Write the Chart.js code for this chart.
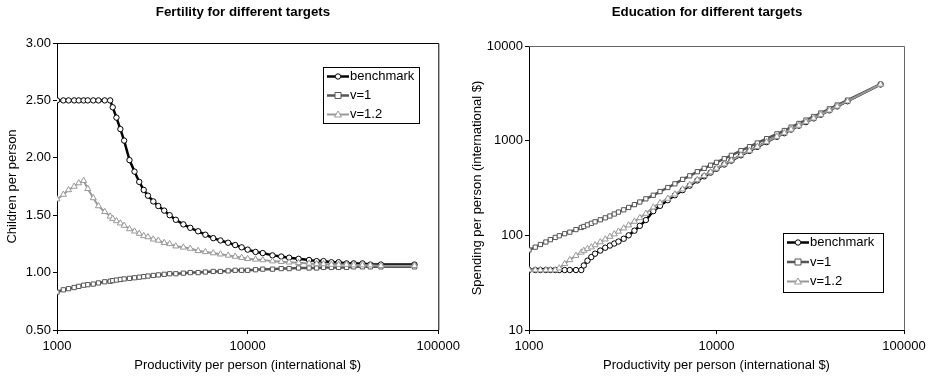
<!DOCTYPE html>
<html>
<head>
<meta charset="utf-8">
<script src="https://cdn.jsdelivr.net/npm/chart.js@4.4.1/dist/chart.umd.min.js"></script>
<style>
  html, body { margin: 0; padding: 0; background: #fff; }
  #wrap { position: relative; width: 931px; height: 379px; }
  .box { position: absolute; top: 0; height: 379px; }
</style>
</head>
<body>
<div id="wrap">
  <div class="box" style="left:0;width:465px"><canvas id="fert"></canvas></div>
  <div class="box" style="left:465px;width:466px"><canvas id="edu"></canvas></div>
</div>
<script>
// productivity per person (international $) - shared x values
const productivity = [1000, 1080, 1150, 1230, 1300, 1380, 1450, 1550, 1650, 1780, 1900, 1960, 2050, 2150, 2250, 2400, 2550, 2700, 2850, 3000,
  3200, 3400, 3650, 3900, 4200, 4600, 5000, 5500, 6000, 6600, 7200, 7900, 8600, 9300, 10000, 11000, 12000, 13500, 15000, 16500,
  18500, 21000, 23000, 25000, 27500, 30000, 33000, 36000, 40000, 44000, 50000, 75000];

// fertility (children per person)
const fertBenchmark = [2.50, 2.50, 2.50, 2.50, 2.50, 2.50, 2.50, 2.50, 2.50, 2.50, 2.50, 2.44, 2.35, 2.25, 2.15, 1.98, 1.88, 1.79, 1.72, 1.67,
  1.62, 1.58, 1.54, 1.50, 1.46, 1.42, 1.39, 1.36, 1.33, 1.30, 1.28, 1.26, 1.24, 1.22, 1.20, 1.18, 1.17, 1.15, 1.14, 1.13,
  1.12, 1.11, 1.10, 1.10, 1.09, 1.09, 1.08, 1.08, 1.08, 1.07, 1.07, 1.07];
const fertV1 = [0.83, 0.85, 0.86, 0.87, 0.88, 0.89, 0.895, 0.90, 0.91, 0.92, 0.925, 0.93, 0.935, 0.94, 0.945, 0.95, 0.955, 0.96, 0.965, 0.97,
  0.975, 0.98, 0.985, 0.99, 0.99, 0.995, 1.00, 1.00, 1.005, 1.01, 1.01, 1.015, 1.02, 1.02, 1.02, 1.025, 1.03, 1.03, 1.035, 1.035,
  1.04, 1.04, 1.04, 1.045, 1.045, 1.045, 1.045, 1.05, 1.05, 1.05, 1.05, 1.05];
const fertV12 = [1.64, 1.68, 1.72, 1.75, 1.78, 1.80, 1.73, 1.65, 1.58, 1.53, 1.49, 1.47, 1.45, 1.43, 1.41, 1.38, 1.36, 1.34, 1.32, 1.31,
  1.29, 1.28, 1.26, 1.25, 1.23, 1.22, 1.21, 1.19, 1.18, 1.17, 1.16, 1.15, 1.14, 1.13, 1.12, 1.115, 1.11, 1.10, 1.095, 1.09,
  1.085, 1.08, 1.075, 1.075, 1.07, 1.07, 1.07, 1.065, 1.065, 1.065, 1.06, 1.06];

// education spending per person (international $)
const eduBenchmark = [43, 43, 43, 43, 43, 43, 43, 43, 43, 43, 43, 48, 54, 59, 64, 69, 74, 78, 82, 86,
  92, 100, 112, 126, 145, 180, 205, 235, 265, 300, 335, 380, 420, 460, 505, 560, 615, 700, 780, 860,
  965, 1100, 1200, 1310, 1440, 1570, 1720, 1880, 2090, 2300, 2610, 3920];
const eduV1 = [70, 75, 80, 85, 90, 95, 99, 104, 108, 115, 121, 124, 129, 134, 139, 146, 153, 160, 168, 176,
  186, 197, 211, 225, 243, 265, 290, 320, 350, 390, 425, 470, 510, 550, 590, 645, 700, 785, 865, 945,
  1050, 1180, 1280, 1390, 1520, 1650, 1800, 1960, 2170, 2380, 2680, 3950];
const eduV12 = [43, 43, 43, 43, 43, 43, 45, 50, 55, 61, 66, 69, 72, 75, 79, 85, 91, 97, 103, 110,
  119, 128, 140, 153, 170, 198, 220, 245, 272, 307, 342, 386, 426, 466, 510, 565, 620, 705, 785, 865,
  970, 1105, 1205, 1315, 1445, 1575, 1725, 1885, 2095, 2305, 2615, 3930];

const seriesNames = ['benchmark', 'v=1', 'v=1.2'];
const xTicks = [1000, 10000, 100000];
const fertTicks = [0.5, 1.0, 1.5, 2.0, 2.5, 3.0];
const eduTicks = [10, 100, 1000, 10000];

const FONT = "'Liberation Sans', Arial, sans-serif";
Chart.defaults.font.family = FONT;
Chart.defaults.font.size = 13;
Chart.defaults.color = '#000';

// later series are painted over earlier ones, like the original
const styles = [
  { color: '#000', width: 2.5, point: 'circle', radius: 2.7, order: 3 },
  { color: '#555', width: 2.5, point: 'rect', radius: 3, order: 2 },
  { color: '#999', width: 2, point: 'triangle', radius: 3.5, order: 1 }
];

function makeDatasets(seriesList) {
  return seriesList.map((vals, i) => ({
    label: seriesNames[i],
    data: productivity.map((x, j) => ({ x: x, y: vals[j] })),
    order: styles[i].order,
    showLine: true,
    borderColor: styles[i].color,
    borderWidth: styles[i].width,
    pointStyle: styles[i].point,
    pointRadius: styles[i].radius,
    pointBorderWidth: 1,
    pointBorderColor: styles[i].color,
    pointBackgroundColor: '#fff',
    tension: 0
  }));
}

// title, frame around the plot, and custom legend (line with marker in the middle)
const framePlugin = {
  id: 'frame',
  afterDraw(chart, args, opts) {
    const { ctx, chartArea: a } = chart;
    ctx.save();
    ctx.fillStyle = '#000';
    ctx.font = 'bold 13.3px ' + FONT;
    ctx.textAlign = 'center';
    ctx.textBaseline = 'middle';
    ctx.fillText(opts.title, opts.titleX, 12);

    ctx.strokeStyle = opts.color;
    ctx.lineWidth = 1;
    ctx.beginPath();
    ctx.moveTo(a.left, a.top + 0.5);
    ctx.lineTo(a.right + 0.5, a.top + 0.5);
    ctx.lineTo(a.right + 0.5, a.bottom);
    ctx.stroke();

    const L = opts.legend;
    ctx.fillStyle = '#fff';
    ctx.fillRect(L.x, L.y, L.w, L.h);
    ctx.strokeStyle = '#000';
    ctx.strokeRect(L.x + 0.5, L.y + 0.5, L.w, L.h);
    ctx.textAlign = 'left';
    chart.data.datasets.forEach((ds, i) => {
      const y = L.y + 9.5 + i * L.gap;
      ctx.strokeStyle = ds.borderColor;
      ctx.lineWidth = ds.borderWidth;
      ctx.beginPath();
      ctx.moveTo(L.x + 4, y);
      ctx.lineTo(L.x + 26, y);
      ctx.stroke();
      ctx.fillStyle = '#fff';
      ctx.strokeStyle = ds.pointBorderColor;
      ctx.lineWidth = 1;
      ctx.beginPath();
      if (ds.pointStyle === 'circle') ctx.arc(L.x + 15, y, ds.pointRadius, 0, Math.PI * 2);
      else if (ds.pointStyle === 'rect') ctx.rect(L.x + 15 - 3, y - 3, 6, 6);
      else { ctx.moveTo(L.x + 15, y - 3.5); ctx.lineTo(L.x + 18.5, y + 2.5); ctx.lineTo(L.x + 11.5, y + 2.5); ctx.closePath(); }
      ctx.fill();
      ctx.stroke();
      ctx.fillStyle = '#000';
      ctx.font = '13px ' + FONT;
      ctx.fillText(ds.label, L.x + 27, y);
    });
    ctx.restore();
  }
};

function buildChart(id, cfg) {
  return new Chart(document.getElementById(id), {
    type: 'scatter',
    data: { datasets: makeDatasets(cfg.series) },
    plugins: [framePlugin],
    options: {
      responsive: true,
      maintainAspectRatio: false,
      animation: false,
      layout: { padding: { left: 0, right: cfg.padRight, top: cfg.padTop, bottom: 0 } },
      plugins: {
        legend: { display: false },
        tooltip: { enabled: false },
        title: { display: false },
        frame: { color: cfg.frameColor, legend: cfg.legend, title: cfg.title, titleX: cfg.titleX }
      },
      scales: {
        x: {
          type: 'logarithmic',
          min: 1000,
          max: 100000,
          afterBuildTicks: s => { s.ticks = xTicks.map(v => ({ value: v })); },
          afterFit: s => { s.height = 49; },
          ticks: { padding: 5, maxRotation: 0, callback: v => String(v) },
          grid: { drawOnChartArea: false, drawTicks: true, tickLength: 4, color: '#000' },
          border: { display: true, color: '#000' },
          title: { display: true, text: 'Productivity per person (international $)', padding: { top: 2, bottom: 6 } }
        },
        y: {
          type: cfg.yType,
          min: cfg.yMin,
          max: cfg.yMax,
          afterBuildTicks: s => { s.ticks = cfg.yTicks.map(v => ({ value: v })); },
          afterFit: s => { s.width = cfg.yWidth; },
          ticks: { padding: 2, callback: cfg.yFormat },
          grid: { drawOnChartArea: false, drawTicks: true, tickLength: 4, color: '#000' },
          border: { display: true, color: '#000' },
          title: { display: true, text: cfg.yTitle, padding: { top: 5, bottom: 4 } }
        }
      }
    }
  });
}

buildChart('fert', {
  series: [fertBenchmark, fertV1, fertV12],
  title: 'Fertility for different targets',
  titleX: 243,
  padTop: 43,
  padRight: 23,
  frameColor: '#000',
  yType: 'linear',
  yMin: 0.5,
  yMax: 3.0,
  yTicks: fertTicks,
  yWidth: 57,
  yFormat: v => Number(v).toFixed(2),
  yTitle: 'Children per person',
  legend: { x: 323, y: 67, w: 96, h: 56, gap: 19 }
});

buildChart('edu', {
  series: [eduBenchmark, eduV1, eduV12],
  title: 'Education for different targets',
  titleX: 242,
  padTop: 46,
  padRight: 27,
  frameColor: '#666',
  yType: 'logarithmic',
  yMin: 10,
  yMax: 10000,
  yTicks: eduTicks,
  yWidth: 64,
  yFormat: v => String(v),
  yTitle: 'Spending per person (international $)',
  legend: { x: 318, y: 233, w: 100, h: 59, gap: 19.5 }
});
</script>
</body>
</html>
